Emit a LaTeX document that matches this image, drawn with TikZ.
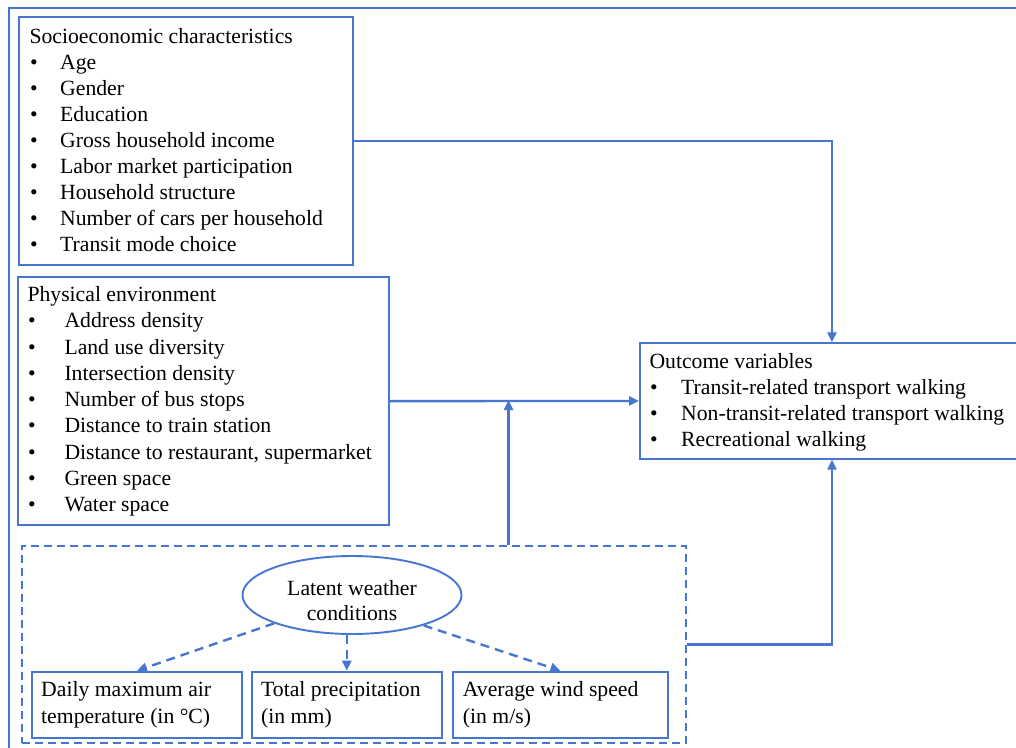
\documentclass[tikz,border=0pt]{standalone}
\usepackage{fontspec}
\setmainfont{Liberation Serif}
\usetikzlibrary{shapes.geometric,arrows.meta,calc}
\definecolor{lineblue}{RGB}{70,118,208}
\begin{document}
\begin{tikzpicture}[x=1pt,y=-1pt,
  box/.style={draw=lineblue, line width=1.9pt, inner sep=0pt, anchor=north west},
  dbox/.style={box, dash pattern=on 8pt off 5pt},
  txt/.style={font=\fontsize{21.7}{26}\selectfont, inner sep=0pt, anchor=base west},
  ctxt/.style={txt, anchor=base},
  arr/.style={draw=lineblue, line width=2.4pt, -{Triangle[length=10pt,width=9pt]}},
  darr/.style={arr, dash pattern=on 9pt off 6pt},
  frame/.style={draw=lineblue, line width=1.9pt}]
\useasboundingbox (0,0) rectangle (1016,747);
% outer frame
\draw[frame] (9,760) -- (9,7.7) -- (1030,7.7);

% boxes
\node[box, minimum width=334, minimum height=248] (soc) at (18.3,16) {};
\node[box, minimum width=371.6, minimum height=248.3] (phy) at (16.7,276) {};
\node[box, minimum width=384, minimum height=115.4] (out) at (639,342.3) {};
\node[dbox, minimum width=664, minimum height=197.3] (wbox) at (21,545) {};
\node[box, minimum width=210.6, minimum height=66] (b1) at (30.7,670.7) {};
\node[box, minimum width=190.3, minimum height=66] (b2) at (250.7,670.7) {};
\node[box, minimum width=215.6, minimum height=66] (b3) at (451.7,670.7) {};
\node[ellipse, draw=lineblue, line width=1.9pt, inner sep=0pt,
      minimum width=219, minimum height=78] (ell) at (352,595) {};

% socioeconomic text
\node[txt] (s0) at (29.3,43.3) {Socioeconomic characteristics};
\foreach \t [count=\i] in {Age, Gender, Education, Gross household income,
  Labor market participation, Household structure,
  Number of cars per household, Transit mode choice}{
  \node[txt] (sb\i) at (29.8,43.3+26*\i) {\textbullet};
  \node[txt] (s\i) at (60,43.3+26*\i) {\t};
}
% physical text
\node[txt] (p0) at (27.3,301.7) {Physical environment};
\foreach \t [count=\i] in {Address density, Land use diversity,
  Intersection density, Number of bus stops, Distance to train station,
  {Distance to restaurant, supermarket}, Green space, Water space}{
  \node[txt] (pb\i) at (27.8,301.7+26.25*\i) {\textbullet};
  \node[txt] (p\i) at (64.3,301.7+26.25*\i) {\t};
}
% outcome text
\node[txt] (o0) at (649.3,368) {Outcome variables};
\foreach \t [count=\i] in {Transit-related transport walking,
  Non-transit-related transport walking, Recreational walking}{
  \node[txt] (ob\i) at (649.8,368+26.3*\i) {\textbullet};
  \node[txt] (o\i) at (681,368+26.3*\i) {\t};
}
% weather texts
\node[ctxt] (l1) at (352,595.7) {Latent weather};
\node[ctxt] (l2) at (352,620.7) {conditions};
\node[txt] (t11) at (41,696.7) {Daily maximum air};
\node[txt] (t12) at (41,723.3) {temperature (in \textdegree C)};
\node[txt] (t21) at (261,696.7) {Total precipitation};
\node[txt] (t22) at (261,723.3) {(in mm)};
\node[txt] (t31) at (462.7,696.7) {Average wind speed};
\node[txt] (t32) at (462.7,723.3) {(in m/s)};

% connectors
\coordinate (j) at (508.5,400);
\draw[arr] (soc.east) -| (out.north);
\draw[arr] (phy.east) -- (out.west);
\draw[arr] (wbox.north -| j) -- (j);
\draw[arr] (wbox.east) -| (out.south);
\draw[darr] (ell.200) -- (b1.north);
\draw[darr] (ell.south -| b2.north) -- (b2.north);
\draw[darr] (ell.-23) -- (b3.north);
\end{tikzpicture}
\end{document}
